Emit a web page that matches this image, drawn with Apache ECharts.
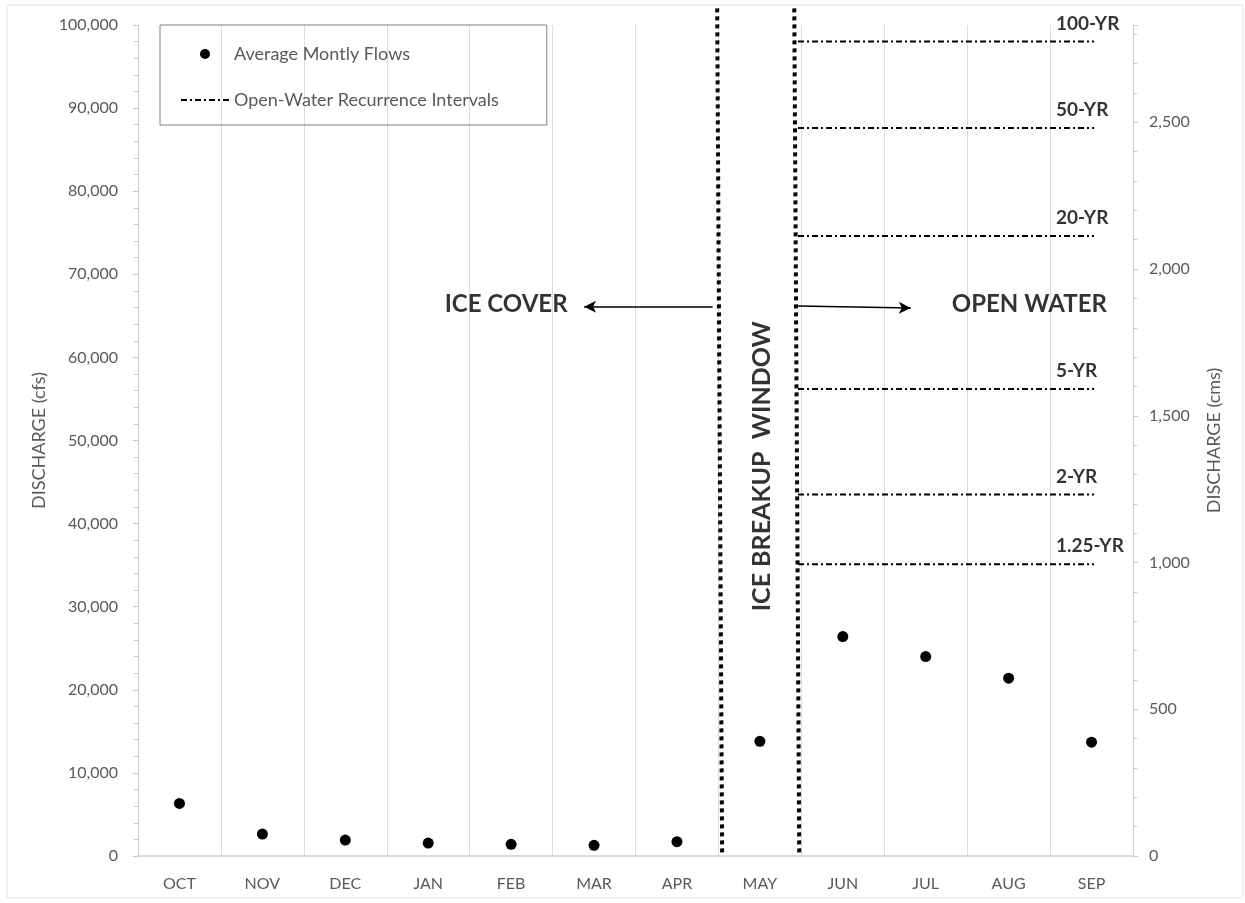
<!DOCTYPE html>
<html>
<head>
<meta charset="utf-8">
<title>Discharge by month</title>
<script src="https://cdn.jsdelivr.net/npm/echarts@6/dist/echarts.min.js"></script>
<style>
  html, body { margin: 0; padding: 0; background: #fff; }
  #chart { width: 1245px; height: 903px; }
</style>
</head>
<body>
<div id="chart"></div>
<script>
  // water-year months
  var months = ["OCT", "NOV", "DEC", "JAN", "FEB", "MAR", "APR", "MAY", "JUN", "JUL", "AUG", "SEP"];
  // average monthly flows, cfs
  var monthlyFlowCfs = [6320, 2640, 1920, 1560, 1400, 1280, 1720, 13800, 26400, 24000, 21400, 13700];
  // open-water recurrence intervals, cfs
  var recurrenceNames = ["100-YR", "50-YR", "20-YR", "5-YR", "2-YR", "1.25-YR"];
  var recurrenceCfs = [98000, 87600, 74600, 56200, 43500, 35100];

  var CFS_PER_CMS = 35.3147;
  var FONT = "Lato, 'Open Sans', sans-serif";
  var GREY = "#595959";

  var series = [];

  series.push({
    name: "Average Montly Flows",
    type: "scatter",
    xAxisIndex: 0,
    yAxisIndex: 0,
    symbol: "circle",
    symbolSize: 11,
    itemStyle: { color: "#000", opacity: 1 },
    data: monthlyFlowCfs,
    z: 5
  });

  // recurrence interval lines (same name -> one legend entry)
  recurrenceCfs.forEach(function (v) {
    series.push({
      name: "Open-Water Recurrence Intervals",
      type: "line",
      xAxisIndex: 1,
      yAxisIndex: 0,
      symbol: "circle",
      showSymbol: false,
      lineStyle: { color: "#000", width: 2, type: [6, 3, 2, 3] },
      itemStyle: { color: "rgba(0,0,0,0)" },
      data: [[7.96, v], [11.53, v]],
      z: 4
    });
  });

  // recurrence labels
  series.push({
    type: "scatter",
    xAxisIndex: 1,
    yAxisIndex: 0,
    symbolSize: 0,
    silent: true,
    label: {
      show: true,
      position: [0, -18],
      align: "left",
      verticalAlign: "middle",
      formatter: "{b}",
      fontFamily: FONT,
      fontWeight: "bold",
      fontSize: 19,
      color: "#000"
    },
    data: recurrenceCfs.map(function (v, i) {
      return { name: recurrenceNames[i], value: [11.07, v] };
    })
  });

  // ice breakup window boundaries (hand drawn, slightly slanted)
  var dotted = { color: "#000", width: 4, type: [4, 4], cap: "butt" };
  series.push({
    type: "line",
    xAxisIndex: 1,
    yAxisIndex: 0,
    symbol: "none",
    clip: false,
    silent: true,
    lineStyle: dotted,
    data: [[6.985, 102000], [7.045, 0]],
    markLine: {
      silent: true,
      symbol: ["none", "arrow"],
      symbolSize: [9, 12],
      label: { show: false },
      lineStyle: { color: "#000", width: 1.5, type: "solid" },
      data: [
        [{ coord: [6.93, 66100] }, { coord: [5.38, 66100] }],
        [{ coord: [7.96, 66200] }, { coord: [9.32, 65950] }]
      ]
    },
    z: 6
  });
  series.push({
    type: "line",
    xAxisIndex: 1,
    yAxisIndex: 0,
    symbol: "none",
    clip: false,
    silent: true,
    lineStyle: dotted,
    data: [[7.915, 102000], [7.975, 0]],
    z: 6
  });

  // annotations
  series.push({
    type: "scatter",
    xAxisIndex: 1,
    yAxisIndex: 0,
    symbolSize: 0,
    silent: true,
    label: {
      show: true,
      position: "inside",
      align: "center",
      verticalAlign: "middle",
      formatter: "{b}",
      fontFamily: FONT,
      fontWeight: "bold",
      fontSize: 24,
      color: "#000"
    },
    data: [
      { name: "ICE COVER", value: [4.44, 66400] },
      { name: "OPEN WATER", value: [10.75, 66400] },
      { name: "ICE BREAKUP  WINDOW", value: [7.53, 46900], label: { rotate: 90, fontSize: 25 } }
    ]
  });

  var option = {
    animation: false,
    backgroundColor: "#fff",
    textStyle: { fontFamily: FONT },
    graphic: [{
      type: "rect",
      shape: { x: 7, y: 5, width: 1236, height: 893 },
      style: { fill: "none", stroke: "#e3e3e3", lineWidth: 1 },
      silent: true
    }],
    grid: { left: 138, right: 112, top: 25, bottom: 47 },
    legend: {
      orient: "vertical",
      left: 160,
      top: 25,
      padding: [20, 48, 16, 20],
      itemGap: 28,
      itemWidth: 48,
      itemHeight: 10,
      borderColor: "#7f7f7f",
      borderWidth: 1,
      textStyle: { fontFamily: FONT, fontSize: 18, color: GREY },
      data: [
        "Average Montly Flows",
        { name: "Open-Water Recurrence Intervals", itemStyle: { opacity: 0 } }
      ]
    },
    xAxis: [{
      type: "category",
      data: months,
      boundaryGap: true,
      axisLine: { lineStyle: { color: "#d0d0d0", width: 1.5 } },
      axisTick: { show: false },
      axisLabel: { color: GREY, fontSize: 16, margin: 20, fontFamily: FONT },
      splitLine: { show: true, lineStyle: { color: "#dcdcdc", width: 1 } }
    }, {
      type: "value",
      min: 0,
      max: 12,
      show: false
    }],
    yAxis: [{
      type: "value",
      min: 0,
      max: 100000,
      interval: 10000,
      name: "DISCHARGE (cfs)",
      nameLocation: "middle",
      nameGap: 86,
      nameTextStyle: { color: GREY, fontSize: 18, fontFamily: FONT },
      axisLine: { show: true, lineStyle: { color: "#d0d0d0" } },
      axisTick: { show: true, length: 5, lineStyle: { color: "#c8c8c8" } },
      minorTick: { show: true, splitNumber: 5, length: 4, lineStyle: { color: "#c8c8c8" } },
      splitLine: { show: false },
      axisLabel: {
        color: GREY, fontSize: 16, margin: 20, fontFamily: FONT,
        formatter: function (v) { return v.toLocaleString("en-US"); }
      }
    }, {
      type: "value",
      position: "right",
      min: 0,
      max: 100000 / CFS_PER_CMS,
      interval: 500,
      alignTicks: false,
      name: "DISCHARGE (cms)",
      nameLocation: "middle",
      nameGap: 72,
      nameTextStyle: { color: GREY, fontSize: 18, fontFamily: FONT },
      axisLine: { show: true, lineStyle: { color: "#d0d0d0" } },
      axisTick: { show: true, length: 5, lineStyle: { color: "#c8c8c8" } },
      minorTick: { show: true, splitNumber: 5, length: 4, lineStyle: { color: "#c8c8c8" } },
      splitLine: { show: false },
      axisLabel: {
        color: GREY, fontSize: 16, margin: 16, fontFamily: FONT,
        showMaxLabel: false,
        formatter: function (v) { return v.toLocaleString("en-US"); }
      }
    }],
    series: series
  };

  var chart = echarts.init(document.getElementById("chart"));
  chart.setOption(option);
  window.addEventListener("resize", function () { chart.resize(); });
</script>
</body>
</html>
